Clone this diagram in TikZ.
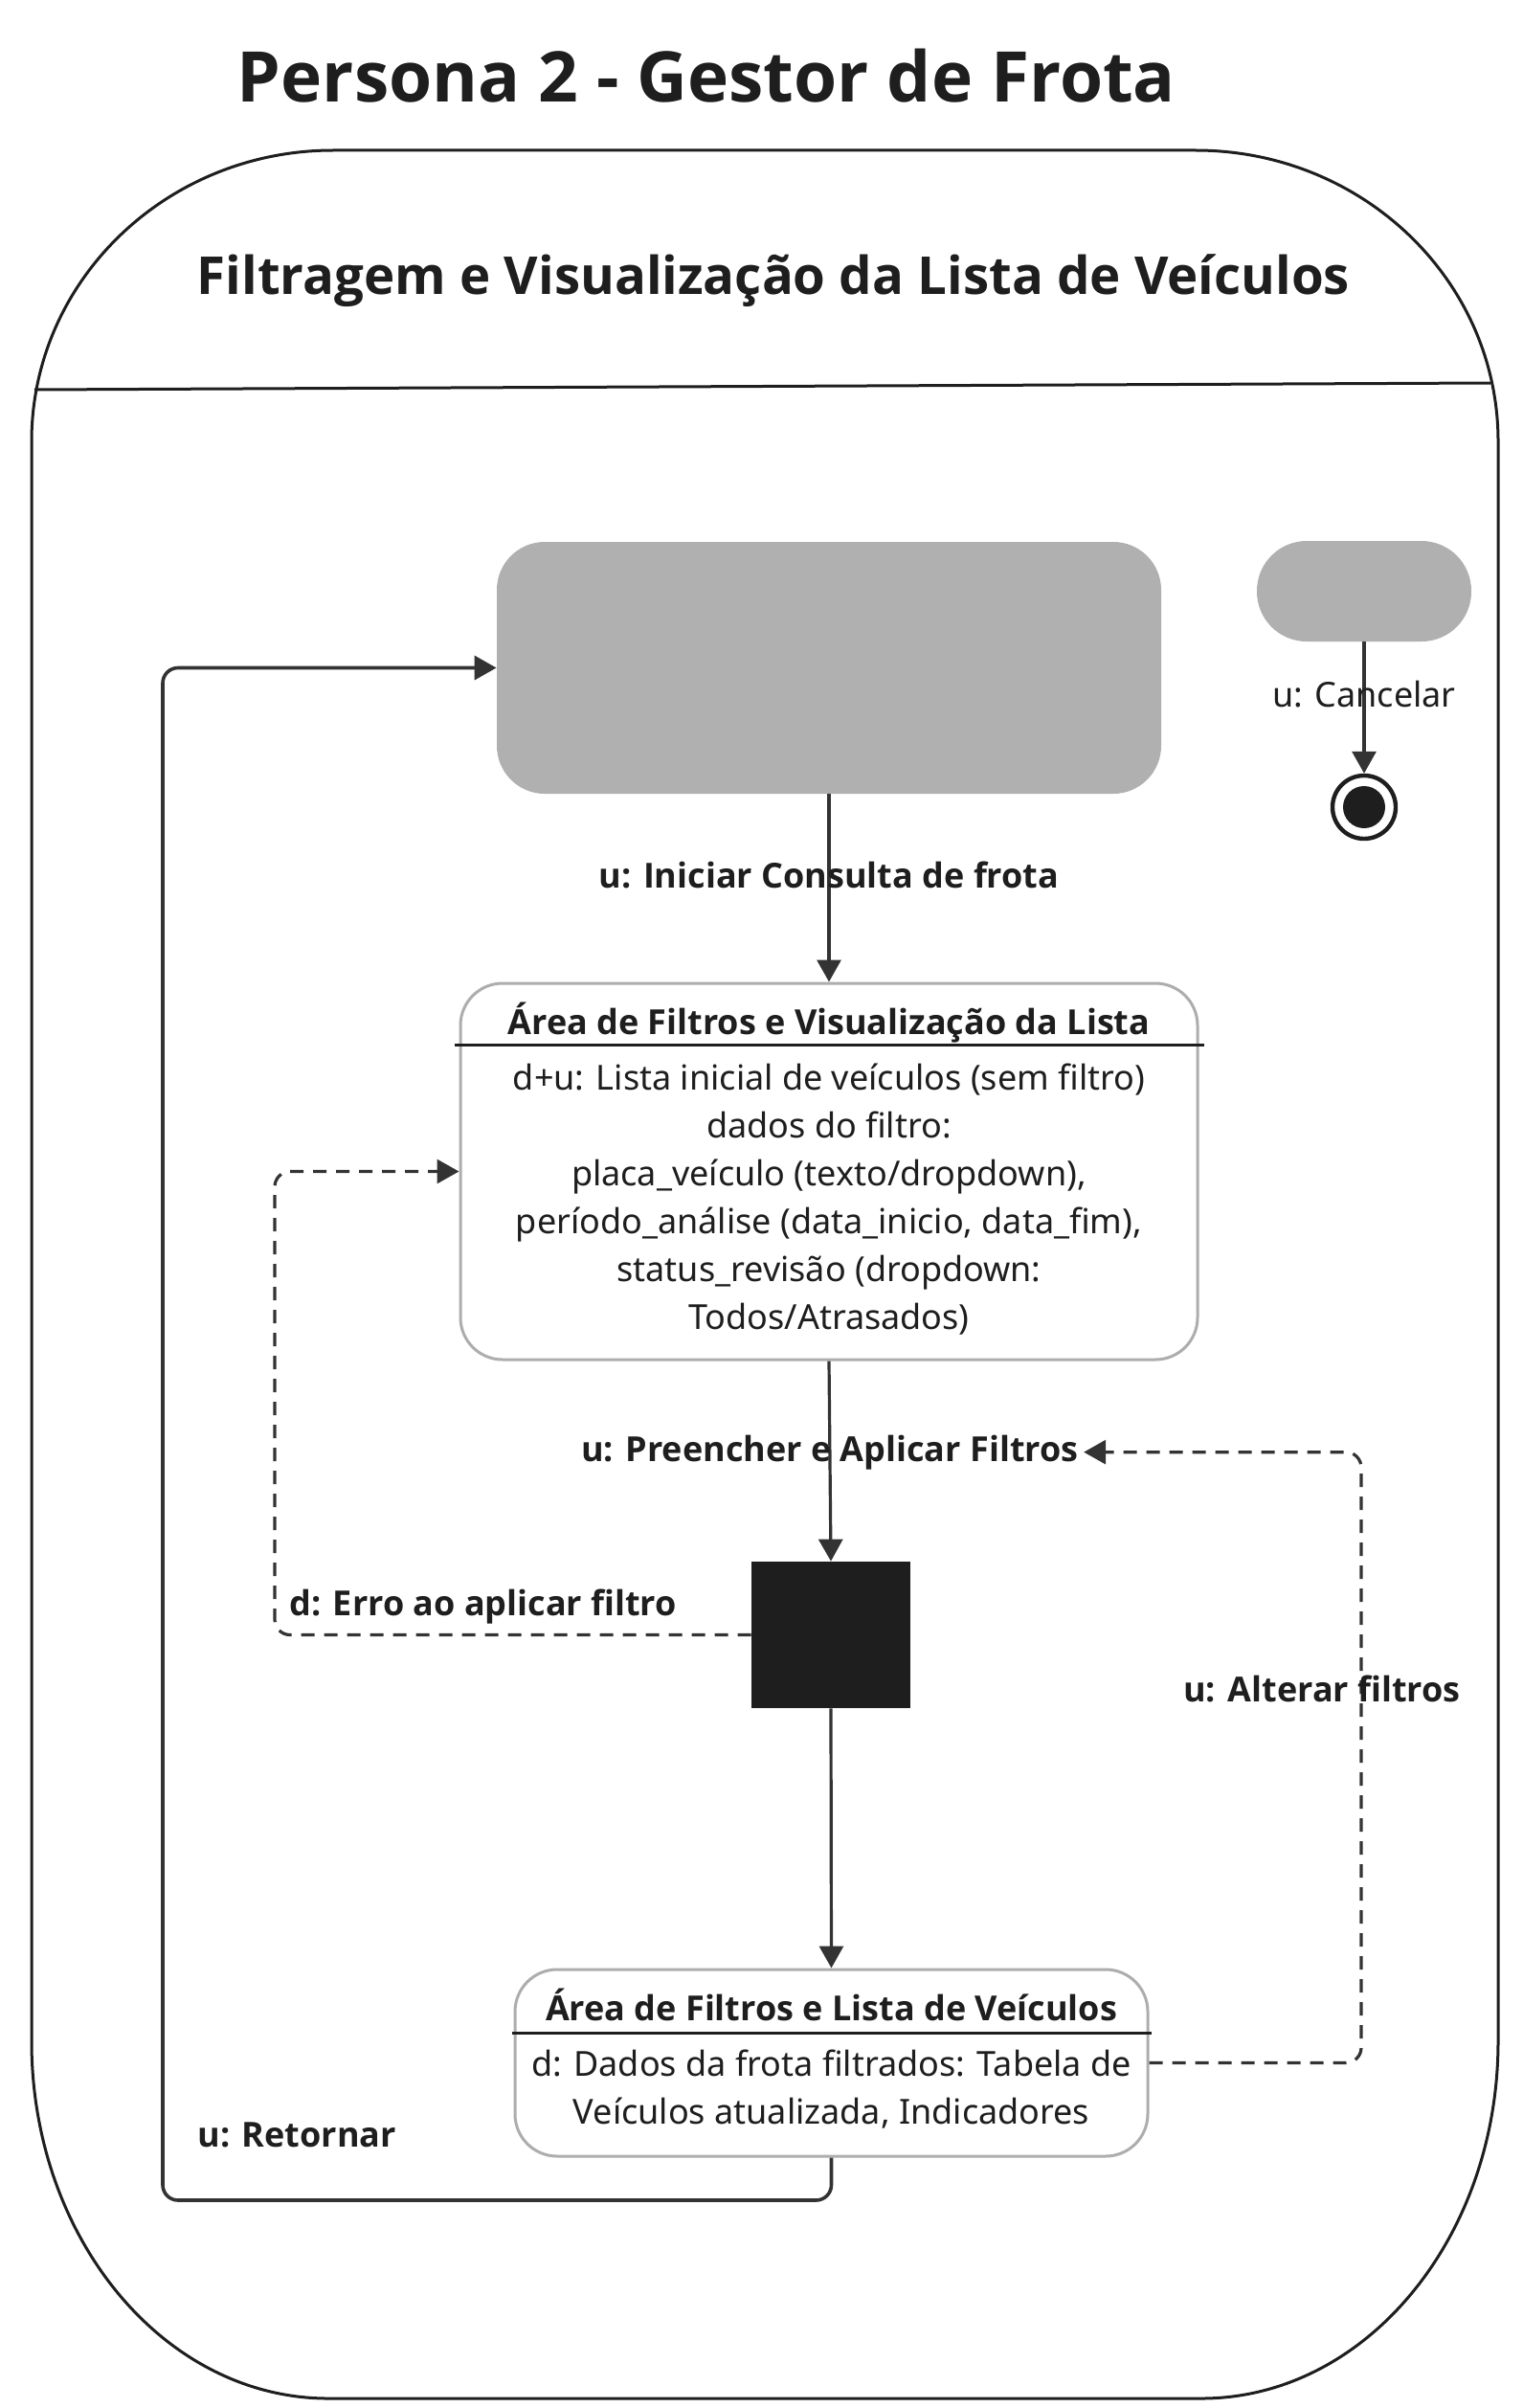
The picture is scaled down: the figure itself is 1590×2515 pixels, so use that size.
\documentclass[tikz,border=0pt]{standalone}
\usepackage{fontspec}
\setmainfont{Noto Sans}[BoldFont={Open Sans Bold}]
\usetikzlibrary{positioning, calc, arrows.meta}
\definecolor{cinzaestado}{HTML}{B0B0B0}
\definecolor{bordaestado}{HTML}{ADADAD}
\definecolor{tinta}{HTML}{1E1E1E}
\definecolor{linha}{HTML}{333333}

\begin{document}
\begin{tikzpicture}[x=0.5pt, y=-0.5pt,
		every node/.style={text=tinta, inner sep=0pt},
		transicao/.style={draw=linha, line width=1.6pt, -{Triangle[length=11.5pt, width=12.5pt]}},
		tracejada/.style={transicao, dash pattern=on 7pt off 5pt},
		rotulo/.style={font=\fontsize{18}{22}\selectfont\bfseries},
		corpo/.style={font=\fontsize{18}{25}\selectfont, align=center},
		estado/.style={draw=bordaestado, line width=1.5pt, rounded corners=22pt, fill=white},
		cinza/.style={fill=cinzaestado, rounded corners=25pt}]
		\useasboundingbox (0,0) rectangle (1590,2515);
		
		\node[font=\fontsize{36.5}{42}\selectfont\bfseries, anchor=base] (persona) at (738,107) {Persona 2 - Gestor de Frota};
		
		\draw[tinta, line width=1.5pt] (348,157) -- (1249,157)
			arc[start angle=90, end angle=0, x radius=158pt, y radius=152pt] -- (1565,2132)
			arc[start angle=0, end angle=-90, x radius=155pt, y radius=186.5pt] -- (343,2505)
			arc[start angle=270, end angle=180, x radius=155pt, y radius=186.5pt] -- (33,461)
			arc[start angle=180, end angle=90, x radius=157.5pt, y radius=152pt] -- cycle;
		\node[font=\fontsize{27.3}{32}\selectfont\bfseries, anchor=base] (subtitulo) at (808,307) {Filtragem e Visualização da Lista de Veículos};
		\draw[tinta, line width=1.5pt] (36,407) -- (1557,400);
		
		\node[cinza, minimum width=347pt, minimum height=131.5pt] (inicio) at (866,697.5) {};
		\node[cinza, rounded corners=26pt, minimum width=112pt, minimum height=52.5pt] (cancelar) at (1425,617.5) {};
		\node[circle, draw=tinta, line width=2.2pt, minimum size=33pt] (fim) at (1425,843) {};
		\node[circle, fill=tinta, minimum size=22pt] (fimMiolo) at (fim) {};
		
		\node[estado, minimum width=385pt, minimum height=196.5pt] (filtros) at (866,1223.5) {};
		\node[rotulo, anchor=base] (filtrosTitulo) at ($(filtros.north)+(0,55)$) {Área de Filtros e Visualização da Lista};
		\draw[tinta, line width=1.3pt] ($(filtros.north west)+(-5,66)$) -- ($(filtros.north east)+(5,66)$);
		\node[corpo] (filtrosCorpo) at ($(filtros.north)+(0,227)$) {d+u: Lista inicial de veículos (sem filtro)\\ dados do filtro:\\ placa\_veículo (texto/dropdown),\\ período\_análise (data\_inicio, data\_fim),\\ status\_revisão (dropdown:\\ Todos/Atrasados)};
		
		\node[fill=tinta, minimum width=83pt, minimum height=76.5pt] (decisao) at (868,1707.5) {};
		
		\node[estado, minimum width=330.5pt, minimum height=97.5pt] (lista) at (868.5,2154.5) {};
		\node[rotulo, anchor=base] (listaTitulo) at ($(lista.north)+(0,55)$) {Área de Filtros e Lista de Veículos};
		\draw[tinta, line width=1.5pt] ($(lista.north west)+(-2,68)$) -- ($(lista.north east)+(2,68)$);
		\node[corpo] (listaCorpo) at ($(lista.north)+(0,127)$) {d: Dados da frota filtrados: Tabela de\\ Veículos atualizada, Indicadores};
		
		\draw[transicao] (inicio.south) -- node[rotulo, pos=0.43] (lblIniciar) {u: Iniciar Consulta de frota} (filtros.north);
		\draw[transicao] (cancelar.south) -- node[pos=0.4, font=\fontsize{18}{22}\selectfont] (lblCancelar) {u: Cancelar} (fim.north);
		\draw[transicao] (filtros.south) -- node[rotulo, pos=0.455] (lblAplicar) {u: Preencher e Aplicar Filtros} (decisao.north);
		\draw[transicao] (decisao.south) -- (lista.north);
		
		\coordinate (erroCanto) at (287,1450);
		\draw[tracejada, rounded corners=8pt] (decisao.west) -| (erroCanto) |- (filtros.west);
		\node[rotulo, anchor=base west] (lblErro) at (302,1687) {d: Erro ao aplicar filtro};
		
		\coordinate (alterarCanto) at (1422,1800);
		\draw[tracejada, rounded corners=8pt] (lista.east) -| (alterarCanto) |- ($(lblAplicar.east)+(4,0)$);
		\node[rotulo, anchor=base] (lblAlterar) at (1381,1777) {u: Alterar filtros};
		
		\coordinate (retornoCanto) at (170,2298);
		\draw[transicao, line width=1.8pt, rounded corners=8pt] (lista.south) |- (retornoCanto) |- (inicio.west);
		\node[rotulo, anchor=base west] (lblRetornar) at (206,2242) {u: Retornar};
\end{tikzpicture}
\end{document}
